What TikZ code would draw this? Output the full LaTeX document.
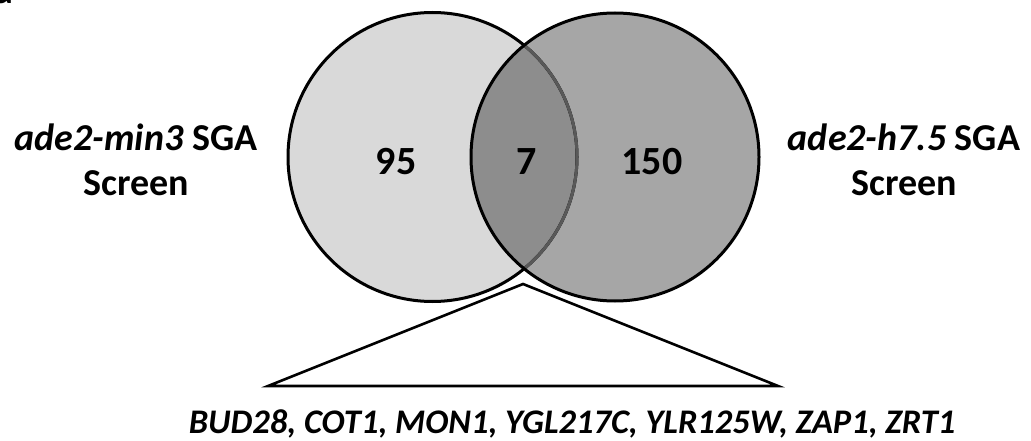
\documentclass[tikz,border=0pt]{standalone}
\usepackage{fontspec}
\setmainfont{Carlito}
\begin{document}
\begin{tikzpicture}[x=1pt,y=-1pt,
  lbl/.style={font=\fontsize{38}{46}\selectfont\bfseries, inner sep=0pt, anchor=base},
  num/.style={font=\fontsize{40}{46}\selectfont\bfseries, inner sep=0pt, anchor=base},
  outline/.style={line width=3pt, black}]
\useasboundingbox (0,0) rectangle (1031,441);
% circles
\fill[fill={rgb,255:red,217;green,217;blue,217}] (432.5,157) circle (144.5);
\draw[outline] (432.5,157) circle (144.5);
\fill[black, fill opacity=0.35] (615,157) circle (144);
\begin{scope}
  \clip (615,157) circle (144);
  \draw[line width=3pt, black!65] (432.5,157) circle (144.5);
\end{scope}
\draw[outline] (615,157) circle (144);
% numbers
\node[num] (n95) at (396,175) {95};
\node[num] (n7) at (527,175) {7};
\node[num] (n150) at (652,175) {150};
% side labels
\node[lbl] (left1) at (136,151) {\textit{ade2-min3} SGA};
\node[lbl] (left2) at (136,196) {Screen};
\node[lbl] (right1) at (904,151) {\textit{ade2-h7.5} SGA};
\node[lbl] (right2) at (904,196) {Screen};
% triangle
\coordinate (apex) at (523,284);
\coordinate (bl) at (268,386);
\coordinate (br) at (778,386);
\draw[line width=2.6pt, line join=miter] (apex) -- (bl) -- (br) -- cycle;
% gene list
\node[lbl, font=\fontsize{34.5}{40}\selectfont\bfseries\itshape] (genes) at (572,433) {BUD28, COT1, MON1, YGL217C, YLR125W, ZAP1, ZRT1};
% cropped panel letter
\node[font=\fontsize{38}{46}\selectfont\bfseries, anchor=base west, inner sep=0pt] (panel) at (-6,4) {a};
\end{tikzpicture}
\end{document}
